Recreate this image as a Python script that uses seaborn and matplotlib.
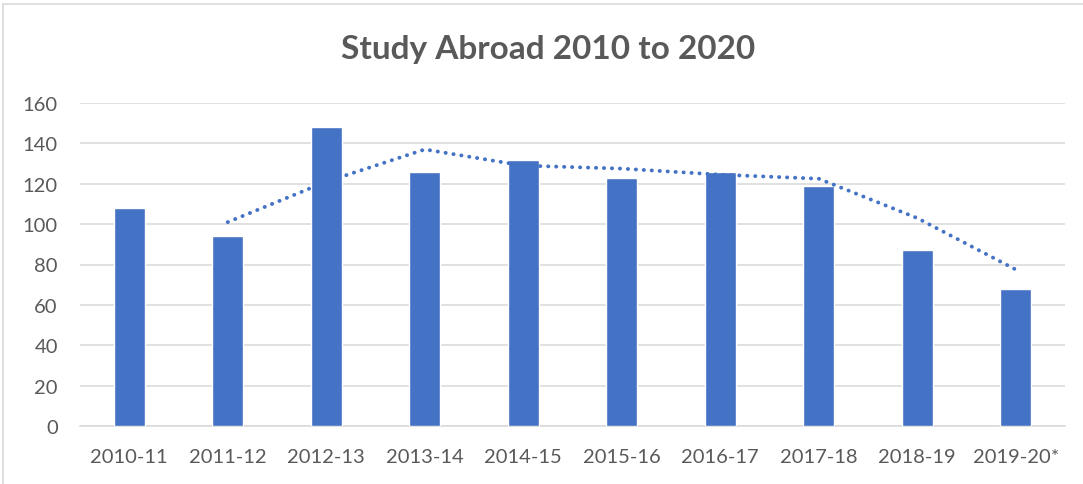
import matplotlib
matplotlib.use("Agg")
import matplotlib.pyplot as plt
import seaborn as sns
import pandas as pd
from matplotlib.patches import Rectangle

# Academic years and number of students studying abroad
years = ["2010-11", "2011-12", "2012-13", "2013-14", "2014-15",
         "2015-16", "2016-17", "2017-18", "2018-19", "2019-20*"]
students = [108, 94, 148, 126, 132, 123, 126, 119, 87, 68]
y_ticks = [0, 20, 40, 60, 80, 100, 120, 140, 160]

df = pd.DataFrame({"year": years, "students": students})
# Two-period moving average trendline
df["trend"] = df["students"].rolling(2).mean()

sns.set_theme(style="white")
plt.rcParams["font.family"] = ["Lato", "DejaVu Sans"]

BLUE = "#4472C4"
GREY_TXT = "#595959"
GRID = "#D9D9D9"

fig = plt.figure(figsize=(10.83, 4.85), dpi=100)
ax = fig.add_axes([80 / 1083, 1 - 427 / 485, 985 / 1083, 323 / 485])

sns.barplot(data=df, x="year", y="students", color=BLUE, width=0.31,
            saturation=1, ax=ax, zorder=3)

trend = df.dropna(subset=["trend"])
ax.plot(trend.index, trend["trend"], color=BLUE, lw=2.8,
        linestyle=(0, (0.05, 2.0)), dash_capstyle="round", zorder=4)

ax.set_ylim(0, 160)
ax.set_xlim(-0.5, len(years) - 0.5)
ax.set_yticks(y_ticks)
ax.yaxis.grid(True, color=GRID, lw=1.1, zorder=0)
ax.set_axisbelow(True)
for s in ["top", "right", "left"]:
    ax.spines[s].set_visible(False)
ax.spines["bottom"].set_color(GRID)
ax.spines["bottom"].set_linewidth(1.1)
ax.tick_params(axis="both", length=0, labelsize=14.5, colors=GREY_TXT)
ax.tick_params(axis="y", pad=16)
ax.tick_params(axis="x", pad=16)
ax.set_xlabel("")
ax.set_ylabel("")

fig.text(548 / 1083, 1 - 49 / 485, "Study Abroad 2010 to 2020",
         ha="center", va="center", fontsize=24, fontweight="bold",
         color=GREY_TXT)

# Chart frame
fig.patches.append(Rectangle((3 / 1083, -0.1), 1.2, 1 - 5 / 485 + 0.1,
                             transform=fig.transFigure, fill=False,
                             edgecolor=GRID, lw=1.2, zorder=0))

fig.savefig("out.png", dpi=100, facecolor="white")
